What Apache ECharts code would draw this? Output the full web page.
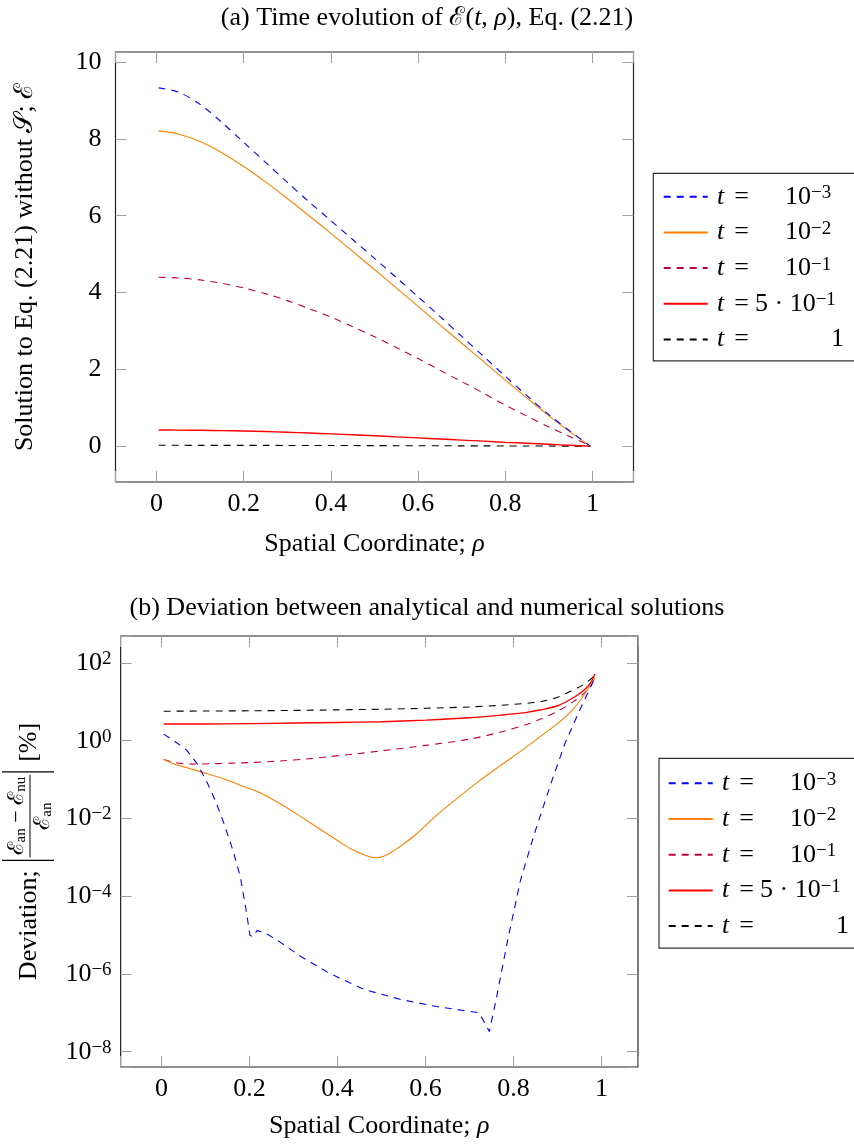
<!DOCTYPE html>
<html><head><meta charset="utf-8">
<script src="https://cdn.jsdelivr.net/npm/echarts@6/dist/echarts.min.js"></script>
<style>html,body{margin:0;padding:0;background:#fff}#c{width:854px;height:1144px}</style>
</head><body><div id="c"></div>
<script>
// ---------- data: (a) solution E(t, rho) ----------
const rhoA = [0.005,0.05,0.1,0.15,0.2,0.25,0.3,0.35,0.4,0.45,0.5,0.55,0.6,0.65,0.7,0.75,0.8,0.85,0.9,0.95,0.995];
const solT1em3 = [9.33,9.22,8.9,8.43,7.91,7.39,6.87,6.36,5.87,5.38,4.89,4.39,3.89,3.38,2.86,2.34,1.82,1.31,0.82,0.38,0.0];
const solT1em2 = [8.21,8.13,7.93,7.64,7.28,6.88,6.45,6.0,5.54,5.07,4.6,4.12,3.64,3.16,2.68,2.2,1.72,1.25,0.79,0.36,0.0];
const solT1em1 = [4.40,4.38,4.33,4.24,4.12,3.97,3.79,3.58,3.36,3.11,2.85,2.57,2.28,1.98,1.68,1.38,1.07,0.78,0.50,0.24,0.01];
const solT5em1 = [0.42,0.418,0.413,0.405,0.394,0.38,0.363,0.342,0.32,0.296,0.27,0.243,0.215,0.187,0.158,0.13,0.10,0.075,0.048,0.022,0.0];
const solT1    = [0.022,0.022,0.0216,0.0212,0.0206,0.0199,0.019,0.0179,0.0167,0.0155,0.0141,0.0127,0.0113,0.0098,0.0083,0.0068,0.0053,0.0039,0.0025,0.0012,0.0];

// ---------- data: (b) deviation in % ----------
const rhoDevT1em3 = [0.005,0.032,0.057,0.081,0.101,0.122,0.142,0.162,0.179,0.191,0.201,0.207,0.217,0.235,0.268,0.317,0.381,0.463,0.544,0.625,0.722,0.745,0.759,0.787,0.816,0.848,0.885,0.917,0.95,0.986];
const devT1em3 = [1.48,0.93,0.575,0.257,0.0977,0.0295,0.0074,1.55e-3,3.2e-4,5.4e-5,1.0e-5,9.0e-6,1.3e-5,1.15e-5,6.8e-6,2.8e-6,1.05e-6,3.9e-7,2.2e-7,1.45e-7,1.0e-7,3.3e-8,1.8e-7,7.6e-6,2.6e-4,4.2e-3,0.079,0.85,6.0,43.6];
const rhoDevT1em2 = [0.005,0.03,0.06,0.09,0.14,0.19,0.22,0.27,0.32,0.37,0.40,0.43,0.455,0.475,0.49,0.505,0.52,0.545,0.576,0.625,0.67,0.72,0.77,0.82,0.86,0.90,0.935,0.96,0.985];
const devT1em2 = [0.33,0.25,0.2,0.158,0.107,0.0646,0.0479,0.024,0.0105,4.5e-3,2.7e-3,1.66e-3,1.23e-3,1.02e-3,9.8e-4,1.07e-3,1.29e-3,2.0e-3,3.7e-3,0.012,0.0316,0.089,0.229,0.575,1.26,2.75,6.3,14.8,41.7];
const rhoDevT1em1 = [0.005,0.03,0.07,0.12,0.2,0.27,0.33,0.38,0.44,0.5,0.6,0.7,0.78,0.83,0.86,0.9,0.935,0.96,0.975,0.985];
const devT1em1 = [0.331,0.275,0.251,0.257,0.275,0.302,0.339,0.389,0.457,0.55,0.759,1.1,1.78,2.63,3.55,5.75,10,16.6,25,45.7];
const rhoDevT5em1 = [0.005,0.1,0.2,0.3,0.4,0.5,0.6,0.7,0.78,0.83,0.86,0.9,0.935,0.96,0.975,0.985];
const devT5em1 = [2.69,2.69,2.75,2.85,2.95,3.09,3.39,3.89,4.68,5.37,6.17,7.94,12.6,20,30.2,52.5];
const rhoDevT1 = [0.005,0.1,0.2,0.3,0.4,0.5,0.6,0.7,0.78,0.86,0.9,0.935,0.96,0.985];
const devT1 = [5.75,5.82,5.89,6.03,6.24,6.46,6.84,7.41,8.32,10,13.2,20,28.2,47.9];

// ---------- labels ----------
const seriesNames = ['t = 10^-3','t = 10^-2','t = 10^-1','t = 5·10^-1','t = 1'];
const legendText = [
  '{p| }{ti|t}{eq|=}{sa| }{b|10}{s|−3}',
  '{p| }{ti|t}{eq|=}{sa| }{b|10}{s|−2}',
  '{p| }{ti|t}{eq|=}{sa| }{b|10}{s|−1}',
  '{p| }{ti|t}{eq|=}{sb| }{b|5 · 10}{s|−1}',
  '{p| }{ti|t}{eq|=}{sc| }{b|1}'
];
const xTickStep = 0.2;
const yTickStepA = 2;
const yExpStepB = 2;
const titleA = '(a) Time evolution of ℰ({i|t}, {i|ρ}), Eq. (2.21)';
const titleB = '(b) Deviation between analytical and numerical solutions';
const xName = 'Spatial Coordinate; {i|ρ}';
const yNameA = 'Solution to Eq. (2.21) without 𝒮; ℰ';

// ---------- styling ----------
const F = '"Liberation Serif", "DejaVu Serif", serif';
const FS = 26;     // tick labels / legend
const FT = 26;     // titles and axis names
const styles = [
  {color:'#0000ff', type:[7,6], width:1.1},
  {color:'#ff8000', type:'solid', width:1.1},
  {color:'#bf0040', type:[7,6], width:1.1},
  {color:'#ff0000', type:'solid', width:1.4},
  {color:'#000000', type:[7,6], width:1.1}
];
const tickStyle = {show:true, inside:true, length:11, lineStyle:{color:'#a0a0a0', width:1}};

function near(v, step){ const r = Math.round(v/step)*step; return Math.abs(v-r) < 1e-6 ? r : null; }
function fmtX(v){ const r = near(v, xTickStep); return r === null ? '' : String(+r.toFixed(1)); }
function fmtYA(v){ const r = near(v, yTickStepA); return r === null ? '' : String(Math.round(r)); }
function fmtYB(v){ const r = near(v, yExpStepB); if (r === null) return ''; const e = Math.round(r); return '{b|10}{s|' + (e < 0 ? '−' + (-e) : e) + '}'; }

const richMain = {i:{fontFamily:F, fontSize:FT, fontStyle:'italic', color:'#000'}};
const supRich = {
  b:{fontFamily:F, fontSize:FS, color:'#000', lineHeight:27},
  s:{fontFamily:F, fontSize:19, color:'#000', verticalAlign:'top', lineHeight:15}
};

function xAx(grid, pos, min, max, labels){
  return {gridIndex:grid, type:'value', position:pos, min, max,
    axisLine:{show:false, onZero:false}, axisTick:tickStyle, splitLine:{show:false},
    axisLabel:{show:labels, formatter:fmtX, fontFamily:F, fontSize:FS, color:'#000', margin:9},
    name: labels ? xName : '', nameLocation:'middle', nameGap: grid === 0 ? 49 : 46,
    nameTextStyle:{fontFamily:F, fontSize:FT, color:'#000', rich:richMain}};
}
function yAx(grid, pos, min, max, labels){
  const a = {gridIndex:grid, type:'value', position:pos, min, max,
    axisLine:{show:false, onZero:false}, axisTick:tickStyle, splitLine:{show:false},
    axisLabel:{show:labels, fontFamily:F, fontSize:FS, color:'#000'}};
  if (grid === 0) {
    a.axisLabel.formatter = fmtYA; a.axisLabel.margin = 14;
    if (labels) { a.name = yNameA; a.nameLocation = 'middle'; a.nameRotate = 90; a.nameGap = 77;
      a.nameTextStyle = {fontFamily:F, fontSize:FT, color:'#000'}; }
  } else {
    a.axisLabel.formatter = fmtYB; a.axisLabel.margin = 9; a.axisLabel.rich = supRich;
  }
  return a;
}

const solData = [solT1em3, solT1em2, solT1em1, solT5em1, solT1];
const devRho = [rhoDevT1em3, rhoDevT1em2, rhoDevT1em1, rhoDevT5em1, rhoDevT1];
const devData = [devT1em3, devT1em2, devT1em1, devT5em1, devT1];

const series = [];
solData.forEach((vals, k) => {
  series.push({type:'line', name:seriesNames[k], xAxisIndex:0, yAxisIndex:0,
    data: rhoA.map((x,i)=>[x, vals[i]]), symbol:'none', smooth:0.3,
    lineStyle:{color:styles[k].color, type:styles[k].type, width:styles[k].width, cap:'butt'},
    itemStyle:{color:styles[k].color}, silent:true, z: 10-k});
});
devData.forEach((vals, k) => {
  series.push({type:'line', name:seriesNames[k], xAxisIndex:2, yAxisIndex:2,
    data: devRho[k].map((x,i)=>[x, Math.log10(vals[i])]), symbol:'none',
    smooth: k === 0 ? false : 0.3,
    lineStyle:{color:styles[k].color, type:styles[k].type, width:styles[k].width, cap:'butt'},
    itemStyle:{color:styles[k].color}, silent:true, z: 10-k});
});

function legend(left, top, pad){
  return {orient:'vertical', left, top, padding:pad, itemGap:9.7, itemWidth:44, itemHeight:26,
    data: seriesNames, selectedMode:false, borderColor:'#333', borderWidth:1.2, borderRadius:0,
    backgroundColor:'#fff', itemStyle:{opacity:0},
    formatter: name => legendText[seriesNames.indexOf(name)],
    textStyle:{fontFamily:F, fontSize:FS, color:'#000', lineHeight:26, rich:{
      p:{width:4.3, lineHeight:26},
      ti:{fontFamily:F, fontSize:FS, fontStyle:'italic', color:'#000', width:15, lineHeight:26},
      eq:{fontFamily:F, fontSize:FS, color:'#000', width:19, align:'center', lineHeight:26},
      sa:{width:34, lineHeight:26}, sb:{width:4, lineHeight:26}, sc:{width:80, lineHeight:26},
      b:{fontFamily:F, fontSize:FS, color:'#000', lineHeight:26},
      s:{fontFamily:F, fontSize:19, color:'#000', verticalAlign:'top', lineHeight:15}
    }}};
}

// ---------- y-axis title of (b), built as rotated text group ----------
const ctx = document.createElement('canvas').getContext('2d');
function tw(s, size){ ctx.font = size + 'px ' + F; return ctx.measureText(s).width; }
const NF = 22, SF = 15;
const wDev = tw('Deviation;', FT);
const numW = 2*tw('ℰ',NF) + tw('an',SF) + tw('nu',SF) + tw(' − ',NF);
const denW = tw('ℰ',NF) + tw('an',SF);
const fracW = Math.max(numW, denW) + 4;
const wPct = tw('[%]', FT);
const total = wDev + 10 + fracW + 6 + 10 + wPct;
const x0 = -total/2;
const xb1 = x0 + wDev + 10;
const xf0 = xb1 + 3, xf1 = xf0 + fracW, xb2 = xf1 + 3, xp = xb2 + 10;
const fracRich = {
  e:{fontFamily:F, fontSize:NF, fill:'#000', lineHeight:23},
  o:{fontFamily:F, fontSize:NF, fill:'#000', lineHeight:23},
  s:{fontFamily:F, fontSize:SF, fill:'#000', lineHeight:13, verticalAlign:'bottom'}
};
function txt(x, y, text, extra){
  return {type:'text', x, y, silent:true, style:Object.assign({text, fill:'#000',
    font: FT + 'px ' + F, align:'left', verticalAlign:'middle', textAlign:'left', textVerticalAlign:'middle'}, extra||{})};
}
const yNameB = {type:'group', x:30, y:851.5, rotation:Math.PI/2, silent:true, children:[
  txt(x0, -1, 'Deviation;'),
  {type:'line', shape:{x1:xb1, y1:-28, x2:xb1, y2:24}, style:{stroke:'#000', lineWidth:1.2}},
  txt((xf0+xf1)/2, -13, '{e|ℰ}{s|an}{o| − }{e|ℰ}{s|nu}', {align:'center', textAlign:'center', rich:fracRich}),
  {type:'line', shape:{x1:xf0, y1:0, x2:xf1, y2:0}, style:{stroke:'#000', lineWidth:1}},
  txt((xf0+xf1)/2, 13, '{e|ℰ}{s|an}', {align:'center', textAlign:'center', rich:fracRich}),
  {type:'line', shape:{x1:xb2, y1:-28, x2:xb2, y2:24}, style:{stroke:'#000', lineWidth:1.2}},
  txt(xp, -1, '[%]')
]};
// title (a) as centred rich text
const titleAEl = txt(427, 18, titleA, {align:'center', textAlign:'center',
  rich:{i:{fontFamily:F, fontSize:FT, fontStyle:'italic', fill:'#000'}}});

const option = {
  animation:false,
  backgroundColor:'#fff',
  title:[
    {text:titleB, left:427, textAlign:'center', top:595, padding:0, textStyle:{fontFamily:F, fontSize:FT, fontWeight:'normal', color:'#000'}}
  ],
  legend:[legend(653.3, 173.3, [10.4, 16, 8.4, 9.4]), legend(659, 758.3, [12, 16, 9, 8.7])],
  grid:[
    {left:115.5, top:52, width:518, height:430, show:true, borderColor:'#222', borderWidth:1.2, backgroundColor:'transparent'},
    {left:120.6, top:636, width:517.4, height:431, show:true, borderColor:'#222', borderWidth:1.2, backgroundColor:'transparent'}
  ],
  xAxis:[
    xAx(0,'bottom',-0.094,1.094,true), xAx(0,'top',-0.094,1.094,false),
    xAx(1,'bottom',-0.093,1.083,true), xAx(1,'top',-0.093,1.083,false)
  ],
  yAxis:[
    yAx(0,'left',-0.933,10.263,true), yAx(0,'right',-0.933,10.263,false),
    yAx(1,'left',-8.394,2.695,true), yAx(1,'right',-8.394,2.695,false)
  ],
  series,
  graphic:[titleAEl, yNameB]
};
const chart = echarts.init(document.getElementById('c'), null, {renderer:'canvas'});
chart.setOption(option);
</script>
</body></html>
